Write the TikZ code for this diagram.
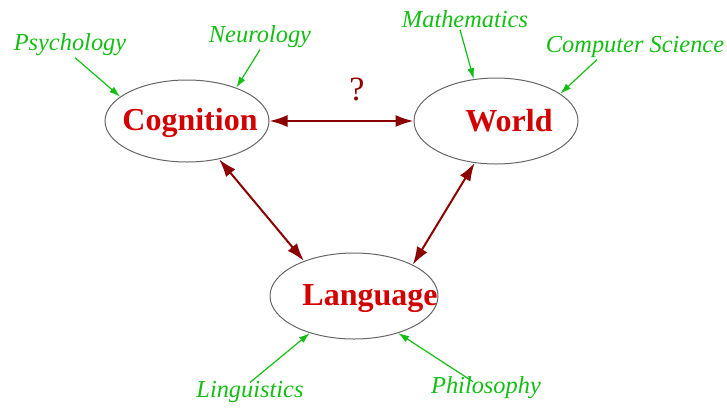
\documentclass[tikz,border=0pt]{standalone}
\usepackage{fontspec}
\setmainfont{Liberation Serif}[BoldFont={Liberation Serif Bold}, ItalicFont={Liberation Serif Italic}]
\usetikzlibrary{shapes.geometric,arrows.meta}

\definecolor{topicred}{RGB}{210,0,0}
\definecolor{linkred}{RGB}{140,0,0}
\definecolor{fieldgreen}{RGB}{20,190,20}

\begin{document}
\begin{tikzpicture}[x=0.5pt,y=-0.5pt,
        area/.style={ellipse, draw=gray!80!black, line width=0.5pt, inner sep=0pt},
        topic/.style={text=topicred, font=\fontsize{16}{18}\selectfont\bfseries, anchor=base},
        field/.style={text=fieldgreen, font=\fontsize{12.2}{14}\selectfont\itshape, anchor=base, inner sep=1pt},
        link/.style={linkred, line width=1pt, {Latex[length=9pt,width=6pt]}-{Latex[length=9pt,width=6pt]}},
        feed/.style={fieldgreen, line width=0.6pt, -{Latex[length=5.5pt,width=3.5pt]}}]

        \useasboundingbox (0,0) rectangle (727,408);

        % The three areas
        \node[area, minimum width=82pt, minimum height=41pt] (cog) at (187,121) {};
        \node[area, minimum width=82pt, minimum height=43pt] (world) at (496,121) {};
        \node[area, minimum width=84pt, minimum height=43pt] (lang) at (354,296) {};

        \node[topic] (cogtext) at (190,130) {Cognition};
        \node[topic] (worldtext) at (509,131) {World};
        \node[topic] (langtext) at (370,305) {Language};

        % Links between the areas
        \draw[link] (cog.east) -- (world.west);
        \draw[link] (cog.-50) -- (lang.145);
        \draw[link] (world.243) -- (lang.28);
        \node[text=linkred, font=\fontsize{17}{20}\selectfont, anchor=base] (query) at (357,100) {?};

        % Fields feeding in
        \node[field] (psy) at (70,50) {Psychology};
        \node[field] (neu) at (260,42) {Neurology};
        \node[field] (mat) at (465,27) {Mathematics};
        \node[field] (cs) at (635,52) {Computer Science};
        \node[field] (ling) at (250,397) {Linguistics};
        \node[field] (phil) at (486,393) {Philosophy};

        \draw[feed] ([xshift=2.5pt]psy.south) -- (cog.160);
        \draw[feed] (neu.south) -- (cog.34);
        \draw[feed] ([xshift=-2.5pt]mat.south) -- (world.118);
        \draw[feed] ([xshift=-19pt]cs.south) -- (world.23);
        \draw[feed] ([yshift=-2pt]ling.north) -- (lang.220);
        \draw[feed] ([xshift=-6.5pt,yshift=-4pt]phil.north) -- (lang.320);
\end{tikzpicture}
\end{document}
